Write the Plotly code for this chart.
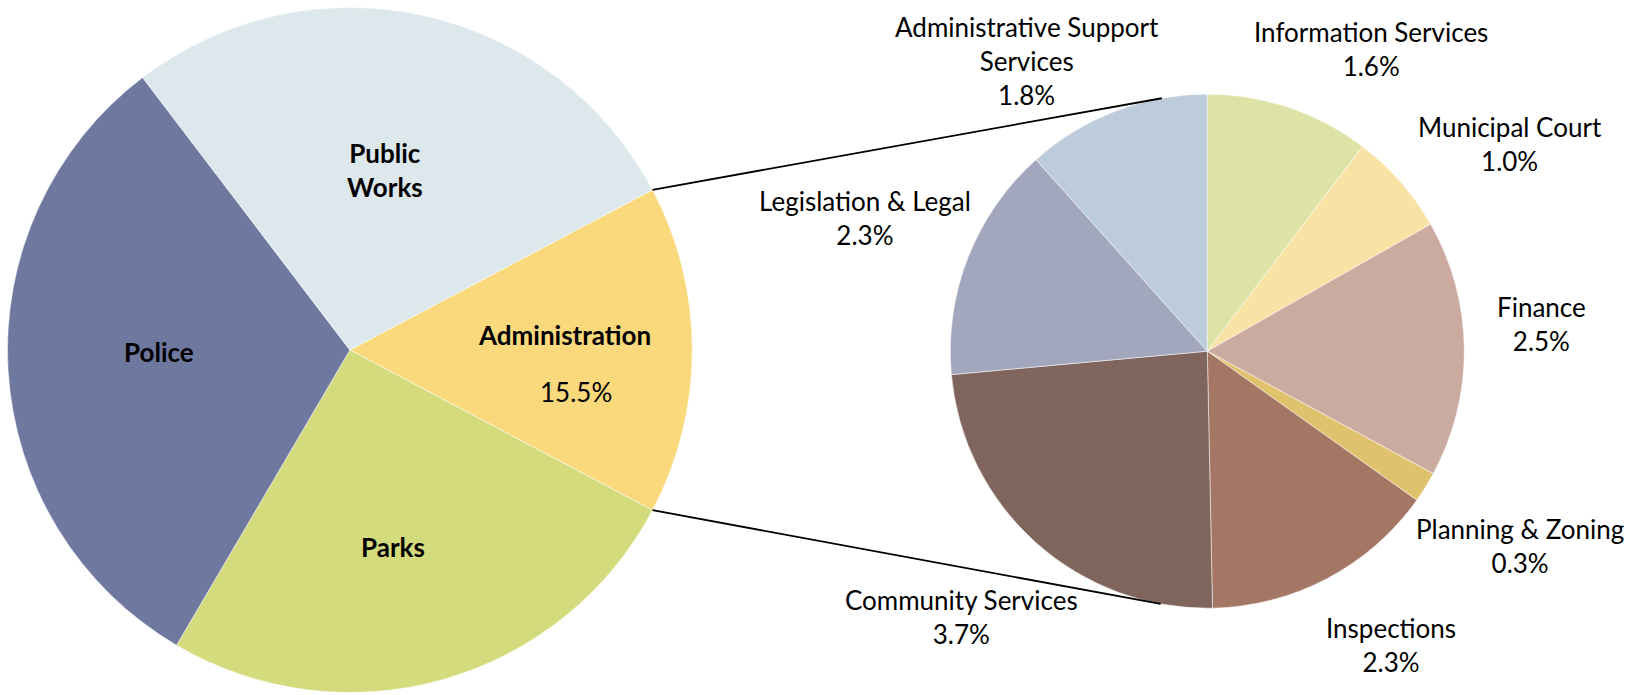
import math
import textwrap
import plotly.graph_objects as go

# ---- data -------------------------------------------------------------
# Main pie: share of the total budget by department (%)
main_labels = ["Administration", "Parks", "Police", "Public Works"]
main_values = [15.5, 25.7, 31.2, 27.6]

# Second pie: Administration broken down by division (% of total budget)
admin_labels = [
    "Information Services",
    "Municipal Court",
    "Finance",
    "Planning & Zoning",
    "Inspections",
    "Community Services",
    "Legislation & Legal",
    "Administrative Support Services",
]
admin_values = [1.6, 1.0, 2.5, 0.3, 2.3, 3.7, 2.3, 1.8]

# ---- styling ----------------------------------------------------------
main_colors = ["#F9D97B", "#D4DB7C", "#6F789F", "#DCE8EC"]
admin_colors = ["#DDE3A6", "#F9E3A4", "#CBAAA0", "#DFC26B",
                "#A47664", "#7F655C", "#A3A7BD", "#BCCCDA"]

W, H = 1635, 695
FONT = "Lato"
FS = 26

# pie geometry in pixels (centre x, centre y, radius)
MAIN_GEOM = (349.9, 350.0, 342.4)
SUB_GEOM = (1207.3, 351.2, 257.0)

# label anchor points in pixels (centre of each text block)
main_label_pos = {
    "Public Works": (385, 170),
    "Police": (159, 352),
    "Parks": (393, 547),
    "Administration": (564, 335),
}
main_value_pos = {"Administration": (576, 392)}
admin_label_pos = {
    "Information Services": (1371, 49),
    "Municipal Court": (1510, 144),
    "Finance": (1541, 324),
    "Planning & Zoning": (1520, 546),
    "Inspections": (1391, 645),
    "Community Services": (961, 617),
    "Legislation & Legal": (865, 218),
    "Administrative Support Services": (1027, 61),
}


def px(x, y):
    """Pixel position -> paper coordinates."""
    return x / W, 1 - y / H


def domain(geom):
    cx, cy, r = geom
    return dict(x=[(cx - r) / W, (cx + r) / W],
                y=[1 - (cy + r) / H, 1 - (cy - r) / H])


main_total = sum(main_values)
admin_share = main_values[main_labels.index("Administration")]
half_angle = admin_share / main_total * 180.0  # degrees

fig = go.Figure()

# Main pie, Administration slice centred on 3 o'clock
fig.add_trace(go.Pie(
    labels=main_labels, values=main_values,
    sort=False, direction="clockwise", rotation=90 - half_angle,
    marker=dict(colors=main_colors, line=dict(color="white", width=0.5)),
    textinfo="none", hoverinfo="label+value",
    domain=domain(MAIN_GEOM), showlegend=False,
))

# Breakdown pie, starting at 12 o'clock
fig.add_trace(go.Pie(
    labels=admin_labels, values=admin_values,
    sort=False, direction="clockwise", rotation=0,
    marker=dict(colors=admin_colors, line=dict(color="white", width=0.5)),
    textinfo="none", hoverinfo="label+value",
    domain=domain(SUB_GEOM), showlegend=False,
))

annotations = []
for lab in main_labels:
    x, y = px(*main_label_pos[lab])
    text = "<br>".join(textwrap.wrap(lab, 8, break_long_words=False))
    annotations.append(dict(x=x, y=y, xref="paper", yref="paper",
                            text="<b>" + text + "</b>", showarrow=False,
                            xanchor="center", yanchor="middle",
                            font=dict(family=FONT, size=FS, color="black")))
for lab, pos in main_value_pos.items():
    x, y = px(*pos)
    val = main_values[main_labels.index(lab)]
    annotations.append(dict(x=x, y=y, xref="paper", yref="paper",
                            text=f"{val:.1f}%", showarrow=False,
                            xanchor="center", yanchor="middle",
                            font=dict(family=FONT, size=FS, color="black")))
for lab, val in zip(admin_labels, admin_values):
    x, y = px(*admin_label_pos[lab])
    text = "<br>".join(textwrap.wrap(lab, 22)) + f"<br>{val:.1f}%"
    annotations.append(dict(x=x, y=y, xref="paper", yref="paper",
                            text=text, showarrow=False,
                            xanchor="center", yanchor="middle",
                            font=dict(family=FONT, size=FS, color="black")))

# Connector lines: from the edges of the Administration slice,
# tangent to the breakdown pie.
mcx, mcy, mr = MAIN_GEOM
scx, scy, sr = SUB_GEOM
shapes = []
for sign in (1, -1):  # 1 = upper edge, -1 = lower edge
    a = math.radians(half_angle)
    p_x = mcx + mr * math.cos(a)
    p_y = mcy - sign * mr * math.sin(a)
    dx, dy = p_x - scx, -(p_y - scy)  # y up
    d = math.hypot(dx, dy)
    base = math.atan2(dy, dx)
    theta = math.acos(sr / d)
    t_ang = base - sign * theta
    t_x = scx + sr * math.cos(t_ang)
    t_y = scy - sr * math.sin(t_ang)
    x0, y0 = px(p_x, p_y)
    x1, y1 = px(t_x, t_y)
    shapes.append(dict(type="line", xref="paper", yref="paper",
                       x0=x0, y0=y0, x1=x1, y1=y1,
                       line=dict(color="black", width=1.8)))

fig.update_layout(
    width=W, height=H, autosize=False,
    margin=dict(l=0, r=0, t=0, b=0),
    paper_bgcolor="white", plot_bgcolor="white",
    annotations=annotations, shapes=shapes,
    font=dict(family=FONT),
)

fig.write_html("out.html")
